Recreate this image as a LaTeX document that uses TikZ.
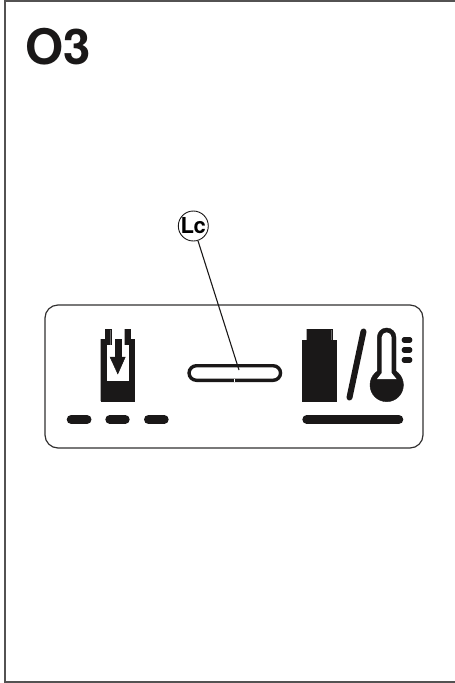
\documentclass[tikz,border=0pt]{standalone}
\usepackage{fontspec}
\setmainfont{TeX Gyre Heros}
\definecolor{ink}{HTML}{1A1818}
\begin{document}
\begin{tikzpicture}[
  x=1pt, y=-1pt,
  frameline/.style={draw=ink!75, line width=1.6pt},
  panel/.style={draw=ink!90, line width=1.2pt, rounded corners=13pt},
  solid ink/.style={fill=ink, draw=ink, line width=0.4pt},
  bar/.style={draw=ink, line width=9pt, line cap=round},
  tickbar/.style={draw=ink, line width=5.2pt, line cap=round},
  callout/.style={
    draw=ink,
    circle,
    line width=0.9pt,
    minimum size=30pt,
    inner sep=0pt,
    fill=white,
    font=\bfseries\fontsize{22}{22}\selectfont
  },
  title/.style={font=\bfseries\fontsize{49}{49}\selectfont, text=ink, inner sep=0pt, anchor=base west},
  leader/.style={draw=ink, line width=1.1pt}
]
\useasboundingbox (0,0) rectangle (455,683);
\draw[frameline] (455,1) -- (5,1) -- (5,682) -- (455,682);
\node[title] (heading) at (25,64.5) {O3};

% display panel
\draw[panel] (45,305) rectangle (423,448);

% cartridge
\path[solid ink] (100.7,339) -- (105,339) -- (105,329) -- (110.7,329) -- (110.7,345) -- (124.7,345)
  -- (124.7,329) -- (130.3,329) -- (130.3,339) -- (134.3,339) -- (134.3,401) -- (100.7,401) -- cycle;
\fill[white] (106.7,345) rectangle (128.7,381);
\path[solid ink] (114.7,339) rectangle (121,357);
\path[solid ink] (110,357) -- (125.3,357) -- (117.8,374) -- cycle;
\draw[bar] (71.2,419.5) -- (87,419.5);
\draw[bar] (109.8,419.5) -- (125.2,419.5);
\draw[bar] (148.5,419.5) -- (164.2,419.5);

% slot
\draw[draw=ink, line width=3.4pt, fill=white, rounded corners=7.5pt] (189,365.7) rectangle (280.6,380.3);
\draw[draw=white, line width=0.5pt] (234,379) -- (234,382);

% battery
\path[solid ink] (302.3,340) -- (306.7,340) -- (306.7,329) -- (331.7,329) -- (331.7,340) -- (336,340)
  -- (336,401) -- (302.3,401) -- cycle;
\draw[draw=ink, line width=6pt, line cap=round] (363.5,331.5) -- (349.5,397.5);

% thermometer
\path[solid ink] (386.7,385) circle (16.7);
\path[solid ink] (377.3,375) -- (377.3,337.3) arc[start angle=180, end angle=360, radius=9.35] -- (396,375) -- cycle;
\fill[white] (381.7,373) -- (381.7,337.3) arc[start angle=180, end angle=360, radius=4.95] -- (391.6,373) -- (396.5,379) -- (377,379) -- cycle;
\draw[tickbar] (404.2,340) -- (409.8,340);
\draw[tickbar] (404.2,350) -- (409.8,350);
\draw[tickbar] (404.2,360) -- (409.8,360);
\draw[bar] (306.8,419.5) -- (398.8,419.5);

% callout
\node[callout] (lc) at (193.3,226) {L\kern-0.5pt c};
\coordinate (slot) at (239,370);
\draw[leader] (lc) -- (slot);
\end{tikzpicture}
\end{document}
